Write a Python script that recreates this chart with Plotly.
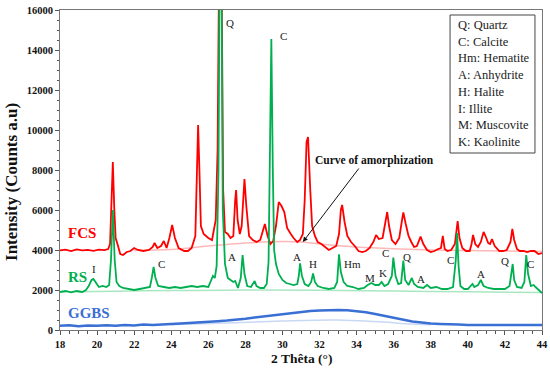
import plotly.graph_objects as go

# ---------------- data ----------------
fcs_theta = [18.0, 18.3, 18.6, 18.9, 19.2, 19.5, 19.8, 20.1, 20.4, 20.6, 20.7, 20.78, 20.85, 20.93, 21.0, 21.1,
             21.25, 21.4, 21.6, 21.8, 22.0, 22.2, 22.5, 22.8, 23.0, 23.1, 23.25, 23.45, 23.6, 23.75, 23.9, 24.05,
             24.2, 24.4, 24.7, 24.9, 25.1, 25.3, 25.4, 25.45, 25.52, 25.6, 25.75, 26.0, 26.2, 26.4, 26.5, 26.6,
             26.7, 26.8, 26.9, 27.05, 27.2, 27.35, 27.45, 27.5, 27.58, 27.7, 27.8, 27.9, 27.95, 28.05, 28.2, 28.4,
             28.6, 28.8, 28.95, 29.05, 29.2, 29.35, 29.5, 29.65, 29.8, 29.95, 30.1, 30.25, 30.45, 30.6, 30.8, 30.95,
             31.1, 31.2, 31.3, 31.38, 31.5, 31.6, 31.75, 31.9, 32.1, 32.3, 32.5, 32.7, 32.9, 33.05, 33.15, 33.22,
             33.35, 33.5, 33.7, 33.9, 34.1, 34.3, 34.5, 34.7, 34.9, 35.05, 35.2, 35.4, 35.55, 35.65, 35.75, 35.9,
             36.1, 36.3, 36.45, 36.52, 36.65, 36.8, 36.95, 37.1, 37.25, 37.45, 37.6, 37.8, 38.0, 38.2, 38.4, 38.55,
             38.65, 38.75, 38.9, 39.1, 39.3, 39.45, 39.55, 39.7, 39.9, 40.1, 40.2, 40.28, 40.4, 40.55, 40.7, 40.85,
             40.95, 41.1, 41.2, 41.3, 41.45, 41.7, 41.9, 42.1, 42.3, 42.4, 42.5, 42.65, 42.8, 43.0, 43.2, 43.4,
             43.6, 43.8, 44.0]
fcs_counts = [3980, 4020, 3950, 4030, 3980, 4010, 3960, 4020, 3990, 4050, 4300, 6200, 8400, 6000, 4600, 4300,
              3800, 3750, 3900, 3950, 4100, 4000, 3950, 4000, 4150, 4350, 4100, 4200, 4450, 4100, 4600, 5250,
              4600, 4100, 3950, 3950, 4100, 4700, 8500, 10250, 8000, 5200, 4800, 4600, 4500, 5500, 9000, 20000,
              20000, 7000, 4900, 4800, 4600, 4700, 6500, 7000, 5500, 4800, 5200, 7300, 7550, 6200, 4700, 4500,
              4400, 4500, 5000, 5300, 4700, 4300, 4450, 5200, 6400, 6200, 5900, 5100, 4800, 4600, 4400, 4500,
              4800, 6500, 9400, 9650, 7000, 5200, 4700, 4400, 4300, 4150, 4000, 4100, 4200, 4800, 6000, 6250,
              5400, 4700, 4400, 4200, 3950, 3900, 3950, 4100, 4400, 4750, 4550, 4600, 5300, 5900, 5200, 4500,
              4300, 4600, 5500, 5880, 5300, 4700, 4400, 4150, 4200, 4670, 4300, 4000, 3900, 3950, 4050, 4100,
              4700, 4050, 3950, 4000, 4300, 5450, 4600, 4100, 3950, 3950, 4300, 4750, 4300, 4150, 4400, 4900,
              4700, 4350, 4300, 4550, 4200, 3950, 3950, 4000, 4400, 5050, 4500, 4050, 3950, 3950, 3900, 3950,
              3950, 3800, 3850]

rs_theta = [18.0, 18.3, 18.6, 18.9, 19.2, 19.4, 19.55, 19.7, 19.8, 19.95, 20.1, 20.3, 20.5, 20.65, 20.75, 20.85,
            20.95, 21.05, 21.2, 21.4, 21.7, 22.0, 22.3, 22.6, 22.85, 22.95, 23.05, 23.15, 23.3, 23.6, 23.9, 24.2,
            24.5, 24.8, 25.1, 25.4, 25.7, 26.0, 26.15, 26.25, 26.35, 26.45, 26.55, 26.62, 26.7, 26.78, 26.9, 27.05,
            27.2, 27.35, 27.45, 27.6, 27.75, 27.85, 27.95, 28.1, 28.3, 28.5, 28.6, 28.8, 29.0, 29.15, 29.25, 29.35,
            29.4, 29.48, 29.55, 29.65, 29.8, 30.0, 30.2, 30.4, 30.6, 30.8, 30.88, 30.95, 31.05, 31.2, 31.4, 31.55,
            31.65, 31.75, 31.9, 32.2, 32.5, 32.8, 32.95, 33.05, 33.15, 33.3, 33.5, 33.8, 34.1, 34.4, 34.6, 34.8,
            35.0, 35.2, 35.35, 35.5, 35.7, 35.9, 35.98, 36.1, 36.25, 36.4, 36.52, 36.62, 36.8, 36.98, 37.1, 37.3,
            37.6, 37.8, 38.0, 38.3, 38.6, 38.9, 39.2, 39.35, 39.42, 39.5, 39.6, 39.8, 40.0, 40.25, 40.35, 40.55,
            40.7, 40.85, 41.1, 41.4, 41.7, 42.0, 42.25, 42.35, 42.42, 42.5, 42.65, 42.9, 43.05, 43.15, 43.25, 43.4,
            43.55, 43.65, 43.8, 44.0]
rs_counts = [1900, 1950, 1880, 1950, 1900, 2000, 2200, 2500, 2550, 2350, 2150, 2200, 2150, 2250, 3500, 6000,
             3500, 2400, 2200, 2100, 2050, 2000, 2050, 2100, 2150, 2600, 3150, 2600, 2200, 2150, 2100, 2150,
             2100, 2150, 2200, 2150, 2200, 2150, 2500, 2700, 2600, 3200, 8000, 20000, 20000, 6000, 3300, 2600,
             2500, 2400, 2450, 2100, 2600, 3750, 2800, 2200, 2150, 2450, 2200, 2100, 2100, 2300, 3400, 10000,
             14550, 8000, 4000, 3300, 2800, 2500, 2350, 2300, 2250, 2300, 2700, 3330, 2700, 2300, 2200, 2400,
             2830, 2400, 2200, 2100, 2050, 2100, 2400, 3780, 2900, 2400, 2200, 2150, 2050, 2100, 2250, 2350,
             2250, 2250, 2400, 2200, 2300, 2700, 3620, 2700, 2300, 2350, 3470, 2500, 2250, 2600, 2300, 2150,
             2100, 2250, 2100, 2150, 2050, 2050, 2150, 3500, 4850, 3200, 2200, 2050, 2050, 2300, 2150, 2250,
             2500, 2200, 2100, 2050, 2050, 2050, 2200, 2800, 3300, 2500, 2150, 2100, 2400, 3750, 2800, 2200,
             2250, 2150, 2000, 1850]

ggbs_theta = [18.0, 18.5, 19.0, 19.5, 20.0, 20.5, 21.0, 21.5, 22.0, 22.5, 23.0, 23.5, 24.0, 24.5, 25.0, 25.5,
              26.0, 26.5, 27.0, 27.5, 28.0, 28.5, 29.0, 29.5, 30.0, 30.5, 31.0, 31.5, 32.0, 32.5, 33.0, 33.5,
              34.0, 34.5, 35.0, 35.5, 36.0, 36.5, 37.0, 37.5, 38.0, 38.5, 39.0, 39.5, 40.0, 40.5, 41.0, 41.5,
              42.0, 42.5, 43.0, 43.5, 44.0]
ggbs_counts = [210, 240, 190, 230, 210, 240, 215, 250, 230, 270, 250, 290, 300, 330, 350, 390,
               400, 440, 470, 510, 560, 630, 680, 750, 800, 860, 900, 950, 970, 1000, 1000, 990,
               940, 890, 800, 710, 600, 510, 430, 380, 320, 300, 270, 270, 250, 250, 250, 240,
               260, 240, 255, 245, 250]

fcs_base_theta = [22.0, 24.0, 26.0, 28.0, 30.0, 31.0, 32.0, 34.0, 36.0, 38.0, 40.0, 42.0, 44.0]
fcs_base_counts = [3980, 4020, 4200, 4350, 4420, 4400, 4300, 4150, 4060, 4000, 3970, 3950, 3930]
rs_base_theta = [18.0, 21.0, 24.0, 27.0, 29.0, 32.0, 36.0, 40.0, 44.0]
rs_base_counts = [1900, 1940, 1970, 1990, 2000, 1990, 1950, 1910, 1870]
ggbs_base_theta = [24.0, 27.0, 30.0, 33.0, 35.0, 37.0, 38.0]
ggbs_base_counts = [260, 350, 450, 500, 420, 300, 260]

phase_text = ["Q", "C", "I", "C", "A", "A", "H", "Hm", "M", "K", "C", "Q", "A", "C", "A", "Q", "C"]
phase_theta = [27.17, 30.03, 19.83, 23.45, 27.26, 30.77, 31.63, 33.8, 34.72, 35.42, 35.58, 36.72, 37.46,
               39.09, 40.71, 42.0, 43.4]
phase_counts = [15365, 14700, 3050, 3300, 3650, 3650, 3300, 3300, 2615, 2850, 3850, 3650, 2550,
                3500, 2800, 3465, 3300]

legend_lines = ["Q: Quartz", "C: Calcite", "Hm: Hematite", "A: Anhydrite", "H: Halite", "I: Illite",
                "M: Muscovite", "K: Kaolinite"]

x_ticks = list(range(18, 45, 2))
y_ticks = list(range(0, 16001, 2000))

# ---------------- styles ----------------
RED = "#ff0000"
GREEN = "#00b050"
BLUE = "#3a6fd3"
SERIF = "Liberation Serif"

fig = go.Figure()
fig.add_trace(go.Scatter(x=fcs_base_theta, y=fcs_base_counts, mode="lines", line=dict(color="#ffb8b8", width=1.5, shape="spline")))
fig.add_trace(go.Scatter(x=rs_base_theta, y=rs_base_counts, mode="lines", line=dict(color="#a9e7c1", width=1.5, shape="spline")))
fig.add_trace(go.Scatter(x=ggbs_base_theta, y=ggbs_base_counts, mode="lines", line=dict(color="#c9d8f5", width=1.5, shape="spline")))
fig.add_trace(go.Scatter(x=fcs_theta, y=fcs_counts, mode="lines", line=dict(color=RED, width=1.8)))
fig.add_trace(go.Scatter(x=rs_theta, y=rs_counts, mode="lines", line=dict(color=GREEN, width=1.8)))
fig.add_trace(go.Scatter(x=ggbs_theta, y=ggbs_counts, mode="lines", line=dict(color=BLUE, width=2.5)))

ann = []
for t, xv, yv in zip(phase_text, phase_theta, phase_counts):
    ann.append(dict(x=xv, y=yv, text=t, showarrow=False, font=dict(family=SERIF, size=11, color="#222")))

for i, line in enumerate(legend_lines):
    ann.append(dict(x=39.36, y=15250 - i * 837, text=line, showarrow=False, xanchor="left", yanchor="middle",
                    font=dict(family=SERIF, size=12.5, color="#222")))

ann.append(dict(x=19.16, y=4850, text="<b>FCS</b>", showarrow=False, font=dict(family=SERIF, size=15, color=RED)))
ann.append(dict(x=18.95, y=2650, text="<b>RS</b>", showarrow=False, font=dict(family=SERIF, size=15, color=GREEN)))
ann.append(dict(x=19.56, y=850, text="<b>GGBS</b>", showarrow=False, font=dict(family=SERIF, size=15, color=BLUE)))

ann.append(dict(x=34.94, y=8500, text="<b>Curve of amorphization</b>", showarrow=False,
                font=dict(family=SERIF, size=11.5, color="#111")))
ann.append(dict(x=31.1, y=4400, ax=34.18, ay=8150, axref="x", ayref="y", text="", showarrow=True,
                arrowhead=2, arrowsize=1, arrowwidth=1, arrowcolor="#111"))

# axis titles
ann.append(dict(xref="paper", yref="paper", x=-0.1017, y=0.4625, text="<b>Intensity (Counts a.u)</b>",
                textangle=-90, showarrow=False, xanchor="center", yanchor="middle",
                font=dict(family=SERIF, size=17, color="#111")))
ann.append(dict(xref="paper", yref="paper", x=0.5, y=-0.0875, text="<b>2 Thêta (°)</b>",
                showarrow=False, xanchor="center", yanchor="middle",
                font=dict(family=SERIF, size=13.5, color="#111")))

fig.update_layout(
    width=550, height=370,
    margin=dict(l=60, r=8, t=10, b=40, autoexpand=False),
    paper_bgcolor="white", plot_bgcolor="white",
    showlegend=False,
    annotations=ann,
    shapes=[dict(type="rect", xref="x", yref="y", x0=39.04, x1=43.62, y0=8850, y1=15750,
                 line=dict(color="#444", width=1), fillcolor="white", layer="above")],
)
fig.update_xaxes(range=[18, 44], tickvals=x_ticks, ticktext=[f"<b>{v}</b>" for v in x_ticks],
                 ticks="outside", ticklen=4, tickcolor="#555", automargin=False,
                 showgrid=False, zeroline=False, showline=True, linecolor="#777", linewidth=1, mirror=True,
                 tickfont=dict(family=SERIF, size=10.5, color="#111"),
                 minor=dict(dtick=0.5, ticks="outside", ticklen=2.5, tickcolor="#555"))
fig.update_yaxes(range=[0, 16000], tickvals=y_ticks, ticktext=[f"<b>{v}</b>" for v in y_ticks],
                 ticks="outside", ticklen=4, tickcolor="#555", automargin=False,
                 showgrid=False, zeroline=False, showline=True, linecolor="#777", linewidth=1, mirror=True,
                 tickfont=dict(family=SERIF, size=10.5, color="#111"),
                 minor=dict(dtick=500, ticks="outside", ticklen=2.5, tickcolor="#555"))

fig.write_html("out.html", config={"displayModeBar": False},
               post_script="document.body.style.margin='0';document.body.style.padding='0';")
